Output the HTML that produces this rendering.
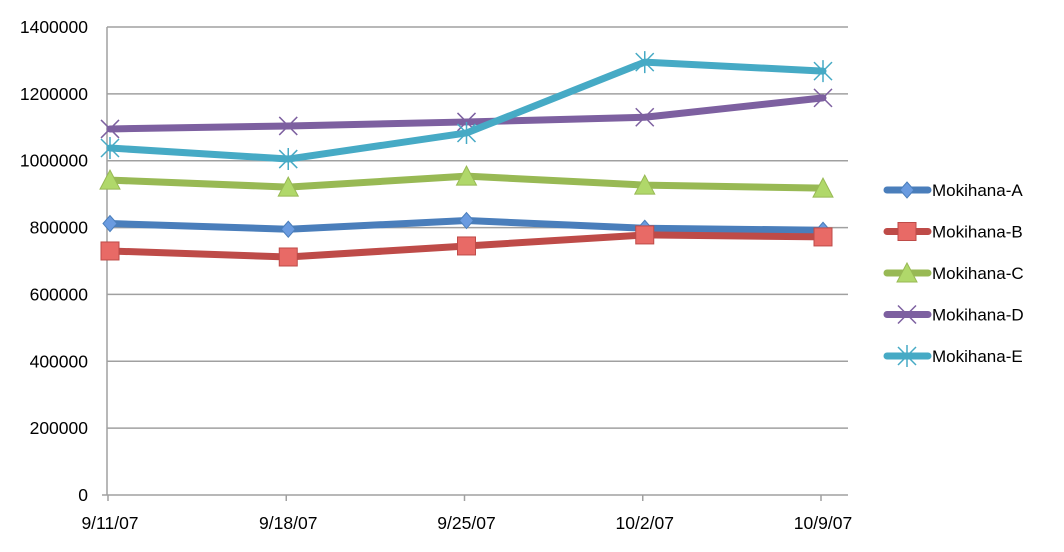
<!DOCTYPE html>
<html><head><meta charset="utf-8"><style>
body{margin:0;background:#fff;}
svg text{font-family:"Liberation Sans",sans-serif;fill:#000;}
</style></head><body>
<svg id="chart" width="1064" height="547"></svg>
<script>
const categories=["9/11/07","9/18/07","9/25/07","10/2/07","10/9/07"];
const yTicks=[0,200000,400000,600000,800000,1000000,1200000,1400000];
const seriesNames=["Mokihana-A","Mokihana-B","Mokihana-C","Mokihana-D","Mokihana-E"];
const seriesA=[812000,795000,821000,798000,792000];
const seriesB=[730000,712000,745000,778000,772000];
const seriesC=[942000,921000,954000,927000,918000];
const seriesD=[1095000,1104000,1116000,1130000,1188000];
const seriesE=[1038000,1005000,1083000,1295000,1268000];
const colors=["#4a7ebb","#be4b48","#98b954","#7d60a0","#46aac5"];
const markers=["diamond","square","triangle","x","star"];
const svg=document.getElementById('chart');
const NS="http://www.w3.org/2000/svg";
function mk(t,a,p){const e=document.createElementNS(NS,t);for(const k in a)e.setAttribute(k,a[k]);(p||svg).appendChild(e);return e;}
const x0=107,x1=848,yb=495,yt=27;
function yS(v){return yb-(v/1400000)*(yb-yt);}
function xS(i){return 110+i*(823-110)/(categories.length-1);}
yTicks.forEach(v=>{
 if(v>0){const g=mk('line',{x1:x0,x2:x1,y1:yS(v),y2:yS(v),stroke:'#a0a0a0','stroke-width':1.5});
 
 }
 const t=mk('text',{x:88,y:yS(v)+6,'text-anchor':'end','font-size':17.5});t.textContent=v;
 
 
});
const ax=mk('line',{x1:x0,x2:x0,y1:yt,y2:yb,stroke:'#a0a0a0','stroke-width':1.5});


const bx=mk('line',{x1:x0-5,x2:x1,y1:yb,y2:yb,stroke:'#a0a0a0','stroke-width':1.5});


categories.forEach((c,i)=>{
 const tk=mk('line',{x1:xS(i)-2,x2:xS(i)-2,y1:yb,y2:yb+6,stroke:'#a0a0a0','stroke-width':1.5});
 
 
 const t=mk('text',{x:xS(i),y:529,'text-anchor':'middle','font-size':17.5});t.textContent=c;
 
 
});
function marker(type,cx,cy,col,p){
 let e;
 if(type==='diamond')e=mk('polygon',{points:`${cx},${cy-8} ${cx+7},${cy} ${cx},${cy+8} ${cx-7},${cy}`,fill:'#6a9be0',stroke:col,'stroke-width':1},p);
 else if(type==='square')e=mk('rect',{x:cx-9,y:cy-9,width:18,height:18,fill:'#e86a66',stroke:col,'stroke-width':1},p);
 else if(type==='triangle')e=mk('polygon',{points:`${cx},${cy-10} ${cx+10},${cy+9} ${cx-10},${cy+9}`,fill:'#b0d86a',stroke:col,'stroke-width':1},p);
 else if(type==='x')e=mk('path',{d:`M${cx-9},${cy-9}L${cx+9},${cy+9}M${cx-9},${cy+9}L${cx+9},${cy-9}`,stroke:col,'stroke-width':1.5},p);
 else e=mk('path',{d:`M${cx-9},${cy-9}L${cx+9},${cy+9}M${cx-9},${cy+9}L${cx+9},${cy-9}M${cx},${cy-11}L${cx},${cy+11}`,stroke:col,'stroke-width':1.5},p);
 return e;
}
const allSeries=[seriesA,seriesB,seriesC,seriesD,seriesE];
allSeries.forEach((s,k)=>{
 const g=mk('g',{});
 
 
 const pl=mk('polyline',{points:s.map((v,i)=>xS(i)+','+yS(v)).join(' '),fill:'none',stroke:colors[k],'stroke-width':7,'stroke-linejoin':'round','stroke-linecap':'round'},g);
 
 
 s.forEach((v,i)=>{const m=marker(markers[k],xS(i),yS(v),colors[k],g);
  
  });
 const ly=190+k*41.5;
 const lg=mk('g',{});
 
 
 mk('line',{x1:887,x2:928,y1:ly,y2:ly,stroke:colors[k],'stroke-width':7,'stroke-linecap':'round'},lg);
 marker(markers[k],907,ly,colors[k],lg);
 const t=mk('text',{x:932,y:ly+6,'font-size':17},lg);t.textContent=seriesNames[k];
});
</script>
</body></html>
